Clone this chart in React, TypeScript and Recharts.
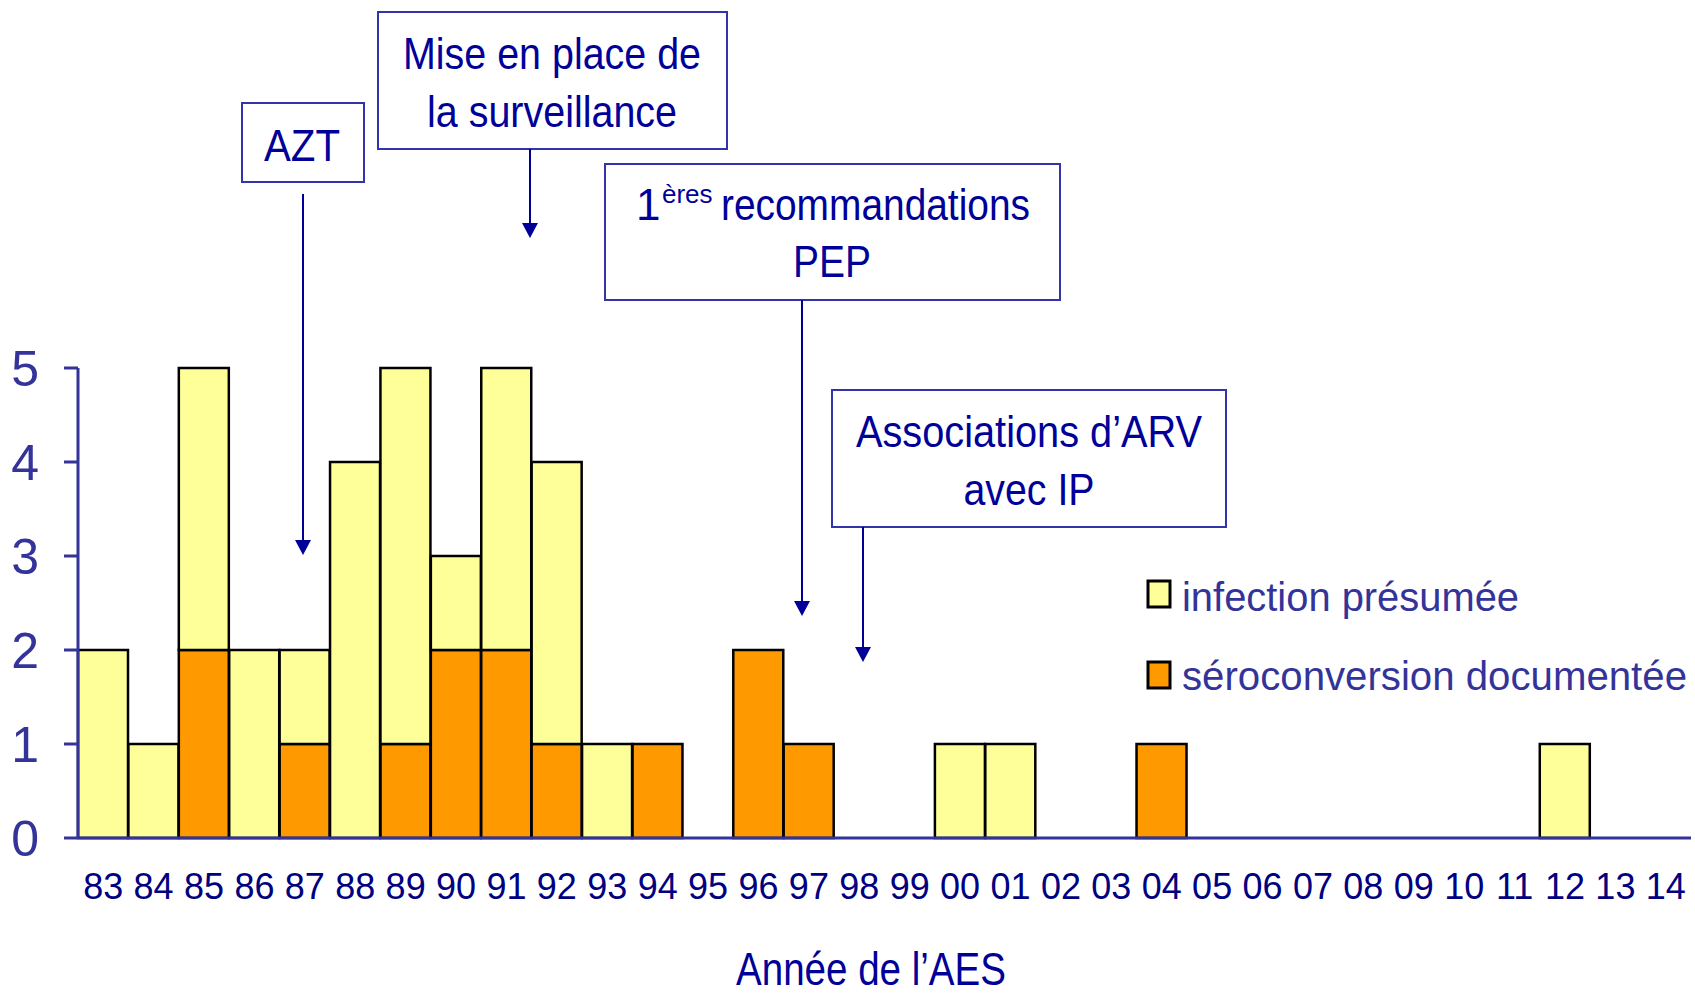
import { Bar, BarChart, Legend, XAxis, YAxis } from 'recharts'

const years = [
    '83', '84', '85', '86', '87', '88', '89', '90', '91', '92', '93', '94', '95', '96', '97', '98',
    '99', '00', '01', '02', '03', '04', '05', '06', '07', '08', '09', '10', '11', '12', '13', '14',
]
const seroconversion = [0, 0, 2, 0, 1, 0, 1, 2, 2, 1, 0, 1, 0, 2, 1, 0, 0, 0, 0, 0, 0, 1, 0, 0, 0, 0, 0, 0, 0, 0, 0, 0]
const infection = [2, 1, 3, 2, 1, 4, 4, 1, 3, 3, 1, 0, 0, 0, 0, 0, 0, 1, 1, 0, 0, 0, 0, 0, 0, 0, 0, 0, 0, 1, 0, 0]
const yTicks = [0, 1, 2, 3, 4, 5]

const seriesNames = ['infection présumée', 'séroconversion documentée']
const seriesColors = ['#FFFF99', '#FF9900']
const axisTitle = 'Année de l\u2019AES'

const data = years.map((year, i) => ({
    year,
    sero: seroconversion[i],
    inf: infection[i],
}))

const FONT = '"Liberation Sans", Arial, sans-serif'
const AXIS_BLUE = '#333399'
const TEXT_NAVY = '#000099'

const XTick = (props: any) => {
    const { x, y, payload } = props
    return (
        <text x={x} y={y + 61} textAnchor="middle" fontSize={36} fontFamily={FONT} fill="#000080">
            {payload.value}
        </text>
    )
}

const YTick = (props: any) => {
    const { x, y, payload } = props
    return (
        <text x={x - 25} y={y + 18} textAnchor="end" fontSize={50} fontFamily={FONT} fill={AXIS_BLUE}>
            {payload.value}
        </text>
    )
}

const LegendBox = () => (
    <svg width={560} height={140}>
        {[0, 1].map((i) => (
            <g key={i}>
                <rect x={8} y={11 + i * 81} width={22} height={26} fill={seriesColors[i]} stroke="#000" strokeWidth={3} />
                <text
                    x={42}
                    y={41 + i * 79}
                    fontSize={40}
                    fontFamily={FONT}
                    fill={AXIS_BLUE}
                    textLength={i === 0 ? 337 : 505}
                    lengthAdjust="spacingAndGlyphs"
                >
                    {seriesNames[i]}
                </text>
            </g>
        ))}
    </svg>
)

// boxes with an arrow pointing at the chart
const Arrow = ({ x, y1, y2 }: { x: number; y1: number; y2: number }) => (
    <g>
        <line x1={x} y1={y1} x2={x} y2={y2 - 14} stroke={TEXT_NAVY} strokeWidth={2} />
        <polygon points={`${x - 8},${y2 - 15} ${x + 8},${y2 - 15} ${x},${y2}`} fill={TEXT_NAVY} />
    </g>
)

const Box = ({ x, y, w, h }: { x: number; y: number; w: number; h: number }) => (
    <rect x={x} y={y} width={w} height={h} fill="#fff" stroke="#3333aa" strokeWidth={2} />
)

const boxText = (x: number, y: number, s: string, len: number, anchor = 'middle') => (
    <text
        x={x}
        y={y}
        textAnchor={anchor}
        fontSize={44}
        fontFamily={FONT}
        fill={TEXT_NAVY}
        textLength={len}
        lengthAdjust="spacingAndGlyphs"
    >
        {s}
    </text>
)

const Annotations = () => (
    <svg width={1695} height={994} style={{ position: 'absolute', left: 0, top: 0, pointerEvents: 'none' }}>
        <Box x={242} y={103} w={122} h={79} />
        {boxText(302, 161, 'AZT', 76)}
        <Arrow x={303} y1={194} y2={555} />

        <Box x={378} y={12} w={349} h={137} />
        {boxText(552, 69, 'Mise en place de', 298)}
        {boxText(552, 127, 'la surveillance', 250)}
        <Arrow x={530} y1={149} y2={238} />

        <Box x={605} y={164} w={455} h={136} />
        <text x={636} y={220} fontSize={44} fontFamily={FONT} fill={TEXT_NAVY}>1</text>
        <text x={662} y={203} fontSize={26} fontFamily={FONT} fill={TEXT_NAVY}>ères</text>
        {boxText(721, 220, 'recommandations', 309, 'start')}
        {boxText(832, 277, 'PEP', 78)}
        <Arrow x={802} y1={300} y2={616} />

        <Box x={832} y={390} w={394} h={137} />
        {boxText(1029, 447, 'Associations d\u2019ARV', 346)}
        {boxText(1029, 505, 'avec IP', 131)}
        <Arrow x={863} y1={527} y2={662} />

        <text
            x={871}
            y={985}
            textAnchor="middle"
            fontSize={46}
            fontFamily={FONT}
            fill={TEXT_NAVY}
            textLength={270}
            lengthAdjust="spacingAndGlyphs"
        >
            {axisTitle}
        </text>
    </svg>
)

export default function App() {
    return (
        <div style={{ position: 'absolute', left: 0, top: 0, width: 1695, height: 994, background: '#fff' }}>
            <BarChart
                width={1695}
                height={994}
                data={data}
                margin={{ top: 368, right: 4, bottom: 96, left: 0 }}
                barCategoryGap={0}
                barGap={0}
            >
                <XAxis
                    dataKey="year"
                    interval={0}
                    height={60}
                    tickLine={false}
                    tickSize={0}
                    tickMargin={0}
                    axisLine={{ stroke: AXIS_BLUE, strokeWidth: 3 }}
                    tick={<XTick />}
                />
                <YAxis
                    domain={[0, 5]}
                    ticks={yTicks}
                    width={78}
                    tickSize={14}
                    tickMargin={0}
                    axisLine={{ stroke: AXIS_BLUE, strokeWidth: 3 }}
                    tickLine={{ stroke: AXIS_BLUE, strokeWidth: 3 }}
                    tick={<YTick />}
                />
                <Legend
                    layout="vertical"
                    align="center"
                    verticalAlign="middle"
                    wrapperStyle={{ left: 1140, top: 570, width: 560, height: 140 }}
                    content={() => <LegendBox />}
                />
                <Bar dataKey="sero" stackId="a" name={seriesNames[1]} fill={seriesColors[1]} stroke="#000" strokeWidth={2.5} isAnimationActive={false} />
                <Bar dataKey="inf" stackId="a" name={seriesNames[0]} fill={seriesColors[0]} stroke="#000" strokeWidth={2.5} isAnimationActive={false} />
            </BarChart>
            <Annotations />
        </div>
    )
}
